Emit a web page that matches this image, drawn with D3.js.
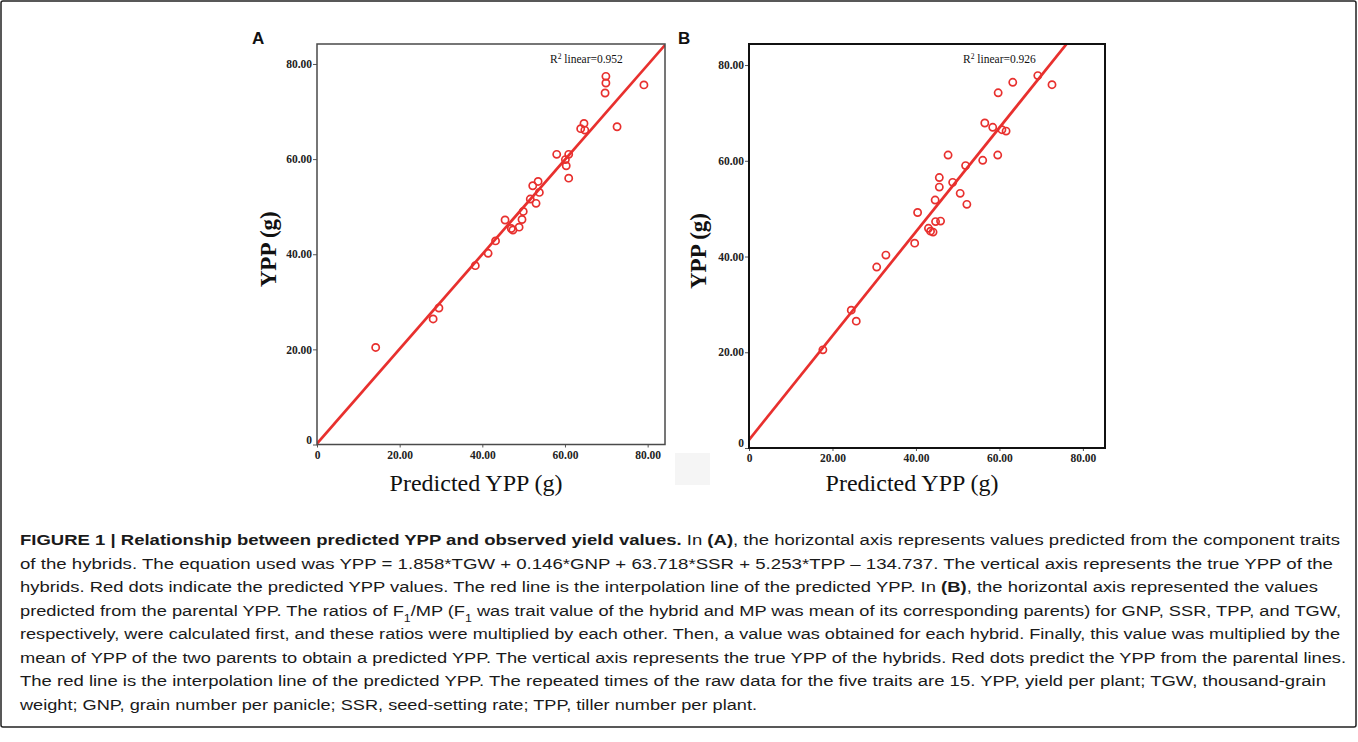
<!DOCTYPE html>
<html>
<head>
<meta charset="utf-8">
<script src="https://cdn.jsdelivr.net/npm/d3@7"></script>
<style>
  html, body { margin:0; padding:0; background:#fff; }
  svg { display:block; }
</style>
</head>
<body>
<svg id="fig" width="1358" height="742"></svg>
<script>
/*****************************************************************
 *  Figure 1 · predicted vs observed YPP (two scatter panels)
 *****************************************************************/

/* ---------- data --------------------------------------------- */
// panel A: predicted from component traits
const predA = [69.9, 69.9, 69.7, 79.1, 72.6, 63.8, 64.6, 64.8, 58.0, 60.9,
               60.1, 60.3, 60.9, 53.5, 52.2, 53.8, 51.6, 53.0, 49.9, 49.6,
               45.5, 47.0, 47.4, 48.9, 43.2, 41.4, 38.3, 29.5, 28.1, 14.2];
const obsA  = [77.4, 76.0, 73.9, 75.6, 66.8, 66.4, 67.5, 66.1, 61.0, 61.0,
               59.9, 58.6, 56.0, 55.3, 54.4, 53.0, 51.6, 50.7, 49.0, 47.3,
               47.2, 45.4, 45.1, 45.7, 42.8, 40.2, 37.6, 28.7, 26.4, 20.4];

// panel B: predicted from parental YPP
const predB = [69.2, 72.6, 63.2, 59.7, 56.5, 58.4, 60.6, 61.6, 47.7, 56.0,
               59.6, 51.9, 45.6, 45.6, 48.8, 50.6, 44.6, 52.2, 40.4, 45.9,
               44.7, 43.0, 43.5, 44.1, 39.7, 32.8, 30.6, 24.5, 25.7, 17.7];
const obsB  = [77.8, 75.9, 76.4, 74.2, 67.9, 67.0, 66.5, 66.2, 61.2, 60.1,
               61.2, 59.0, 56.5, 54.5, 55.5, 53.2, 51.8, 50.9, 49.2, 47.4,
               47.3, 45.9, 45.3, 45.1, 42.8, 40.3, 37.8, 28.8, 26.5, 20.5];

// fitted lines + R²
const fitA = {intercept: 0.2, slope: 0.995};
const fitB = {intercept: 1.7, slope: 1.087};
const r2A  = 0.952;
const r2B  = 0.926;

const axisTicks = [0, 20, 40, 60, 80];

/* ---------- caption (** = bold, _{..} = subscript) ----------- */
const captionLines = [
  "**FIGURE 1 | Relationship between predicted YPP and observed yield values.** In **(A)**, the horizontal axis represents values predicted from the component traits",
  "of the hybrids. The equation used was YPP = 1.858*TGW + 0.146*GNP + 63.718*SSR + 5.253*TPP – 134.737. The vertical axis represents the true YPP of the",
  "hybrids. Red dots indicate the predicted YPP values. The red line is the interpolation line of the predicted YPP. In **(B)**, the horizontal axis represented the values",
  "predicted from the parental YPP. The ratios of F_{1}/MP (F_{1} was trait value of the hybrid and MP was mean of its corresponding parents) for GNP, SSR, TPP, and TGW,",
  "respectively, were calculated first, and these ratios were multiplied by each other. Then, a value was obtained for each hybrid. Finally, this value was multiplied by the",
  "mean of YPP of the two parents to obtain a predicted YPP. The vertical axis represents the true YPP of the hybrids. Red dots predict the YPP from the parental lines.",
  "The red line is the interpolation line of the predicted YPP. The repeated times of the raw data for the five traits are 15. YPP, yield per plant; TGW, thousand-grain",
  "weight; GNP, grain number per panicle; SSR, seed-setting rate; TPP, tiller number per plant."
];
// right edge of each caption line in the reference
const captionEnds = [1340, 1333, 1318, 1341, 1340, 1346, 1326, 757];

/* ---------- setup -------------------------------------------- */
const svg   = d3.select("#fig");
const RED   = "#e8302e";
const SERIF = "'Liberation Serif', 'Times New Roman', serif";
const SANS  = "'Liberation Sans', Arial, Helvetica, sans-serif";

svg.append("rect")
    .attr("x", 1).attr("y", 1)
    .attr("width", 1355).attr("height", 726)
    .attr("fill", "#fff")
    .attr("stroke", "#222")
    .attr("stroke-width", 1.5)
    .attr("rx", 2);

let _uid = 0;

function scatterPanel(g, {
  pred, obs, fit, r2, letter,
  box,                     // {left, top, right, bottom}
  xMax, yMax,
  frameColour = "#444",
  frameWidth  = 1.5,
  letterX, yLabelX, r2X, titleX
}) {
  const x = d3.scaleLinear().domain([0, xMax]).range([box.left, box.right]);
  const y = d3.scaleLinear().domain([0, yMax]).range([box.bottom, box.top]);
  const fmt = d => d === 0 ? "0" : d3.format(".2f")(d);

  /* clip to the plot frame */
  const clipId = `clip-panel-${++_uid}`;
  g.append("defs").append("clipPath").attr("id", clipId)
    .append("rect")
      .attr("x", box.left).attr("y", box.top)
      .attr("width", box.right - box.left)
      .attr("height", box.bottom - box.top);

  /* y axis ticks + labels */
  const yAxis = g.append("g")
      .attr("transform", `translate(${box.left},0)`)
      .call(d3.axisLeft(y).tickValues(axisTicks).tickSize(4).tickPadding(1).tickFormat(fmt));
  yAxis.select(".domain").remove();
  yAxis.selectAll(".tick line").attr("stroke", "#555").attr("stroke-width", 1);
  yAxis.selectAll(".tick text")
      .attr("font-family", SERIF).attr("font-weight", "bold")
      .attr("font-size", 11.5).attr("fill", "#222")
      .attr("dy", d => d === 0 ? "-0.1em" : "0.32em");

  /* x axis ticks + labels */
  const xAxis = g.append("g")
      .attr("transform", `translate(0,${box.bottom})`)
      .call(d3.axisBottom(x).tickValues(axisTicks).tickSize(3).tickPadding(3).tickFormat(fmt));
  xAxis.select(".domain").remove();
  xAxis.selectAll(".tick line").attr("stroke", "#555").attr("stroke-width", 1);
  xAxis.selectAll(".tick text")
      .attr("font-family", SERIF).attr("font-weight", "bold")
      .attr("font-size", 11.5).attr("fill", "#222");

  /* regression line */
  g.append("line")
      .attr("clip-path", `url(#${clipId})`)
      .attr("x1", x(0)).attr("y1", y(fit.intercept))
      .attr("x2", x(xMax)).attr("y2", y(fit.intercept + fit.slope * xMax))
      .attr("stroke", RED)
      .attr("stroke-width", 2.7);

  /* points */
  const pts = pred.map((p, i) => ({p, o: obs[i]}));
  g.append("g").attr("clip-path", `url(#${clipId})`)
    .selectAll("circle")
    .data(pts)
    .join("circle")
      .attr("cx", d => x(d.p))
      .attr("cy", d => y(d.o))
      .attr("r", 3.6)
      .attr("fill", "none")
      .attr("stroke", RED)
      .attr("stroke-width", 1.7);

  /* frame */
  g.append("rect")
      .attr("x", box.left).attr("y", box.top)
      .attr("width", box.right - box.left)
      .attr("height", box.bottom - box.top)
      .attr("fill", "none")
      .attr("stroke", frameColour)
      .attr("stroke-width", frameWidth);

  /* R² annotation */
  const r2t = g.append("text")
      .attr("x", r2X).attr("y", 63)
      .attr("font-family", SERIF).attr("font-size", 11.5).attr("fill", "#111");
  r2t.append("tspan").text("R");
  r2t.append("tspan").attr("font-size", 7.5).attr("baseline-shift", "super").text("2");
  r2t.append("tspan").text(` linear=${r2}`);

  /* axis titles */
  g.append("text")
      .attr("x", titleX).attr("y", 491)
      .attr("text-anchor", "middle")
      .attr("font-family", SERIF).attr("font-size", 24).attr("fill", "#111")
      .text("Predicted YPP (g)");

  g.append("text")
      .attr("transform", `translate(${yLabelX},${(box.top + box.bottom) / 2 + 5}) rotate(-90)`)
      .attr("text-anchor", "middle")
      .attr("font-family", SERIF).attr("font-weight", "bold")
      .attr("font-size", 23).attr("fill", "#111")
      .text("YPP (g)");

  /* panel letter */
  g.append("text")
      .attr("x", letterX).attr("y", 44)
      .attr("font-family", SANS).attr("font-weight", "bold")
      .attr("font-size", 17).attr("fill", "#111")
      .text(letter);

  return {x, y};
}

/* ---------- faint scan artefact near panel B ------------------ */
svg.append("rect")
    .attr("x", 675).attr("y", 453).attr("width", 35).attr("height", 32)
    .attr("fill", "#f5f5f5");

/* ---------- panels ------------------------------------------- */
scatterPanel(svg.append("g"), {
  pred: predA, obs: obsA, fit: fitA, r2: r2A, letter: "A",
  box: {left: 317, top: 44, right: 665, bottom: 444.5},
  xMax: 84.2, yMax: 84.2,
  frameColour: "#4a4a4a", frameWidth: 1.5,
  letterX: 252, yLabelX: 276, r2X: 550, titleX: 476
});

scatterPanel(svg.append("g"), {
  pred: predB, obs: obsB, fit: fitB, r2: r2B, letter: "B",
  box: {left: 749, top: 44, right: 1105, bottom: 448},
  xMax: 85.3, yMax: 84.4,
  frameColour: "#111", frameWidth: 2,
  letterX: 678, yLabelX: 706, r2X: 963, titleX: 912
});

/* ---------- caption ------------------------------------------ */
const parseLine = s => {
  const segs = [];
  const re = /\*\*(.+?)\*\*|_\{(.+?)\}|([^*_]+|[*_])/g;
  let m;
  while ((m = re.exec(s))) {
    if (m[1] !== undefined) segs.push({t: m[1], bold: true});
    else if (m[2] !== undefined) segs.push({t: m[2], sub: true});
    else segs.push({t: m[3]});
  }
  return segs;
};

const capG = svg.append("g")
    .attr("font-family", SANS)
    .attr("font-size", 15.5)
    .attr("fill", "#1a1a1a");

captionLines.forEach((line, i) => {
  const t = capG.append("text")
      .attr("x", 20)
      .attr("y", 545 + i * 23.5)
      .attr("textLength", captionEnds[i] - 20)
      .attr("lengthAdjust", "spacingAndGlyphs");
  parseLine(line).forEach(seg => {
    const ts = t.append("tspan").text(seg.t);
    if (seg.bold) ts.attr("font-weight", "bold");
    if (seg.sub)  ts.attr("font-size", 10.5).attr("baseline-shift", "sub");
  });
});
</script>
</body>
</html>
